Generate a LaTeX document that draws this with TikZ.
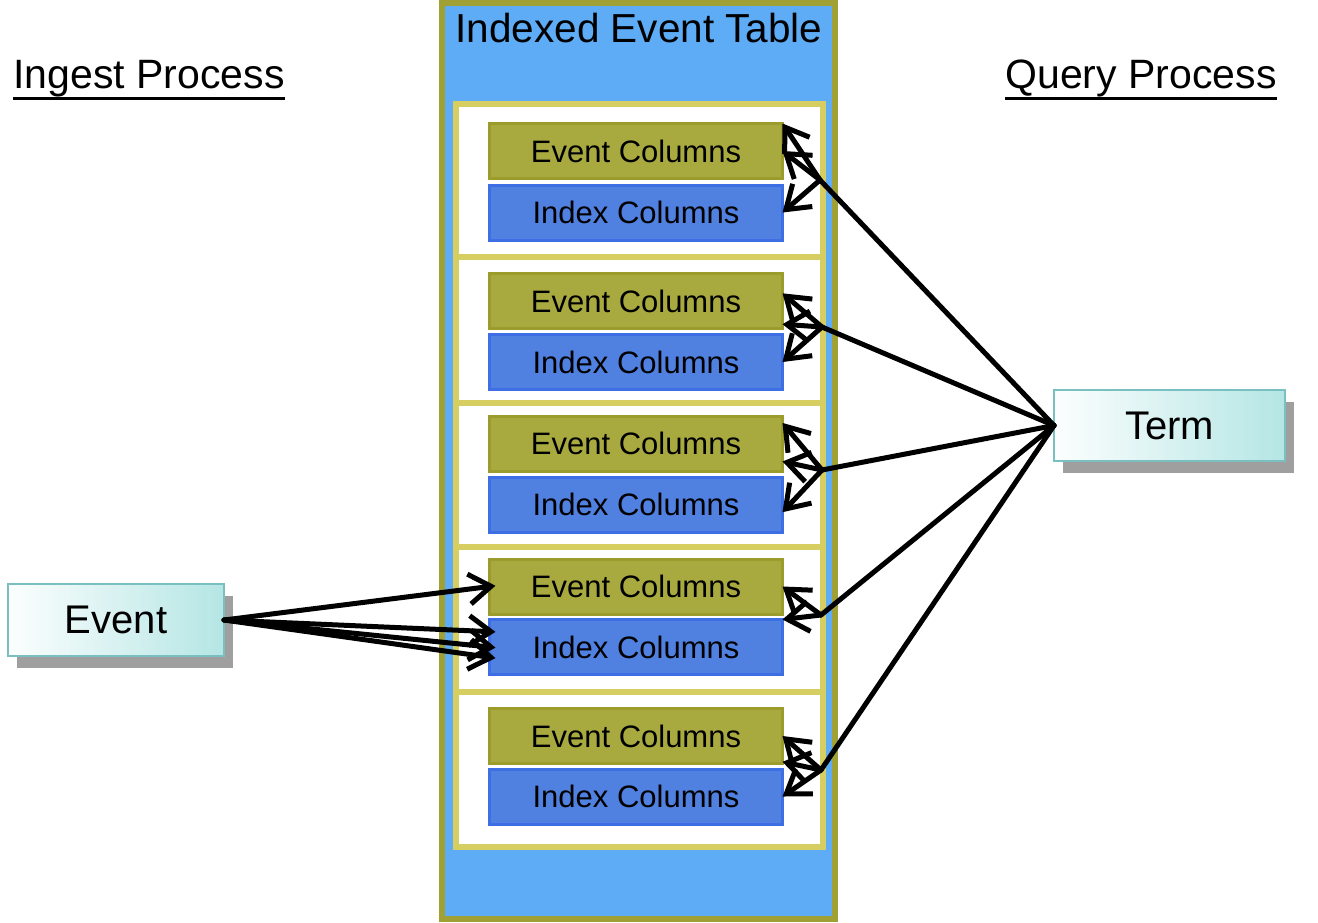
\documentclass[tikz,border=0pt]{standalone}
\usepackage{fontspec}
\setmainfont{Liberation Sans}
\usetikzlibrary{arrows.meta,shadows}

\definecolor{tableblue}{RGB}{93,172,245}
\definecolor{tableolive}{RGB}{160,160,52}
\definecolor{panelyellow}{RGB}{214,206,96}
\definecolor{eventolive}{RGB}{168,170,64}
\definecolor{eventoliveline}{RGB}{156,156,44}
\definecolor{indexblue}{RGB}{80,128,224}
\definecolor{indexblueline}{RGB}{62,110,228}
\definecolor{boxteal}{RGB}{180,230,228}
\definecolor{boxtealline}{RGB}{122,192,192}

\tikzset{
  TableStyle/.style = {draw=tableolive, line width=6pt, fill=tableblue, inner sep=0pt, outer sep=0pt},
  PanelStyle/.style = {draw=panelyellow, line width=6pt, fill=white, minimum width=367pt, inner sep=0pt, outer sep=0pt},
  ColumnStyle/.style = {line width=3pt, minimum width=293pt, minimum height=55pt, inner sep=0pt, outer sep=0pt,
    font=\fontsize{31}{36}\selectfont},
  EventCol/.style = {ColumnStyle, draw=eventoliveline, fill=eventolive},
  IndexCol/.style = {ColumnStyle, draw=indexblueline, fill=indexblue},
  ProcBox/.style = {draw=boxtealline, line width=2pt, left color=white!96!boxteal, right color=boxteal,
    inner sep=0pt, outer sep=0pt,
    drop shadow={shadow xshift=9pt, shadow yshift=-12pt, fill=black!75, opacity=0.5}},
  HeadText/.style = {font=\fontsize{41}{48}\selectfont, anchor=base, inner sep=0pt},
  RuleStyle/.style = {line width=3pt},
  EdgeStyle/.style = {line width=5pt, line cap=round, line join=round},
  ArrowStyle/.style = {EdgeStyle, -{Straight Barb[length=22pt,width=30pt]}}
}

\begin{document}
\begin{tikzpicture}[x=1pt,y=-1pt]
    \useasboundingbox[fill=white] (0,0) rectangle (1318,922);

    \node[TableStyle, minimum width=393pt, minimum height=916pt] (Table) at (638.5,461) {};
    \node[font=\fontsize{40.5}{46}\selectfont] (Title) at (639,28) {Indexed Event Table};

    \node[PanelStyle, minimum height=153pt] (P1) at (639.5,180) {};
    \node[PanelStyle, minimum height=146pt] (P2) at (639.5,329.5) {};
    \node[PanelStyle, minimum height=144pt] (P3) at (639.5,474.5) {};
    \node[PanelStyle, minimum height=145.5pt] (P4) at (639.5,619.25) {};
    \node[PanelStyle, minimum height=154.5pt] (P5) at (639.5,769.25) {};

    \node[EventCol] (EC1) at (636,151) {Event Columns};
    \node[IndexCol] (IC1) at (636,212.5) {Index Columns};
    \node[EventCol] (EC2) at (636,301) {Event Columns};
    \node[IndexCol] (IC2) at (636,362) {Index Columns};
    \node[EventCol] (EC3) at (636,443.5) {Event Columns};
    \node[IndexCol] (IC3) at (636,504.5) {Index Columns};
    \node[EventCol] (EC4) at (636,586.5) {Event Columns};
    \node[IndexCol] (IC4) at (636,647) {Index Columns};
    \node[EventCol] (EC5) at (636,736) {Event Columns};
    \node[IndexCol] (IC5) at (636,796.5) {Index Columns};

    \node[HeadText] (Ingest) at (149,88) {Ingest Process};
    \node[HeadText] (Query) at (1141,88) {Query Process};
    \draw[RuleStyle] ([yshift=-10pt]Ingest.base west) -- ([yshift=-10pt]Ingest.base east);
    \draw[RuleStyle] ([yshift=-10pt]Query.base west) -- ([yshift=-10pt]Query.base east);

    \node[ProcBox, minimum width=216pt, minimum height=72pt, font=\fontsize{40}{46}\selectfont] (Event) at (116,620) {Event};
    \node[ProcBox, minimum width=231pt, minimum height=71pt, font=\fontsize{40}{46}\selectfont] (Term) at (1169.5,425.5) {Term};

    \draw[ArrowStyle, shorten >=-6pt] (Event.east) -- (EC4.west);
    \draw[ArrowStyle, shorten >=-6pt] (Event.east) -- (IC4.174);
    \draw[ArrowStyle, shorten >=-6pt] (Event.east) -- (IC4.west);
    \draw[ArrowStyle, shorten >=-6pt] (Event.east) -- (IC4.184);

    \coordinate (J1) at (820,180);
    \coordinate (J2) at (822,327);
    \coordinate (J3) at (822,470);
    \coordinate (J4) at (821,615);
    \coordinate (J5) at (821,770);

    \draw[EdgeStyle] (Term.west) -- (J1);
    \draw[EdgeStyle] (Term.west) -- (J2);
    \draw[EdgeStyle] (Term.west) -- (J3);
    \draw[EdgeStyle] (Term.west) -- (J4);
    \draw[EdgeStyle] (Term.west) -- (J5);

    \draw[ArrowStyle] (J1) -- (EC1.north east);
    \draw[ArrowStyle] (J1) -- (EC1.east);
    \draw[ArrowStyle] (J1) -- (IC1.east);
    \draw[ArrowStyle] (J2) -- (EC2.3);
    \draw[ArrowStyle] (J2) -- (EC2.-9);
    \draw[ArrowStyle] (J2) -- (IC2.east);
    \draw[ArrowStyle] (J3) -- (EC3.8);
    \draw[ArrowStyle] (J3) -- (EC3.-7.5);
    \draw[ArrowStyle] (J3) -- (IC3.-3);
    \draw[ArrowStyle] (J4) -- (EC4.east);
    \draw[ArrowStyle] (J4) -- (IC4.north east);
    \draw[ArrowStyle] (J5) -- (EC5.east);
    \draw[ArrowStyle] (J5) -- (EC5.-10);
    \draw[ArrowStyle] (J5) -- (IC5.east);
\end{tikzpicture}
\end{document}
